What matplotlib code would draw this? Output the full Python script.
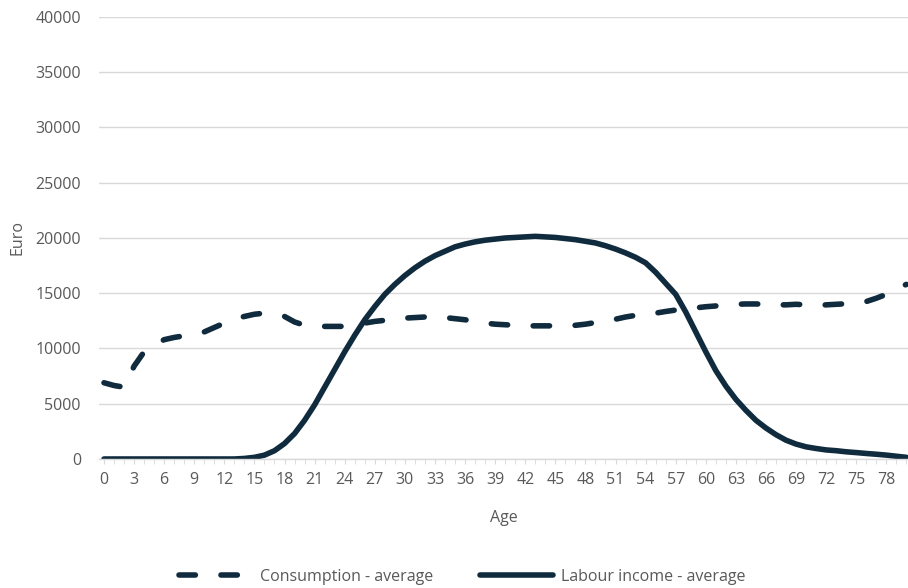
import numpy as np
import matplotlib.pyplot as plt

# average consumption and labour income by age (euro per year)
ages = np.arange(0, 81)
consumption = [
    6900, 6650, 6500, 8400, 9700, 10300, 10800, 11000, 11150, 11300,
    11500, 11900, 12300, 12700, 12900, 13100, 13200, 13100, 12900, 12400,
    12100, 12050, 12000, 12000, 12000, 12100, 12300, 12450, 12550, 12700,
    12750, 12800, 12850, 12850, 12800, 12700, 12600, 12450, 12300, 12200,
    12150, 12100, 12050, 12050, 12050, 12050, 12050, 12100, 12200, 12350,
    12500, 12650, 12850, 13000, 13100, 13200, 13350, 13480, 13580, 13680,
    13780, 13850, 13920, 14000, 14030, 14030, 14000, 13950, 13950, 14000,
    13950, 13900, 13950, 14000, 14050, 14150, 14250, 14550, 14900, 15400,
    15800,
]
labour_income = [
    0, 0, 0, 0, 0, 0, 0, 0, 0, 0,
    0, 0, 0, 0, 50, 150, 350, 750, 1400, 2300,
    3500, 4900, 6500, 8100, 9700, 11200, 12600, 13800, 14900, 15800,
    16600, 17300, 17900, 18400, 18800, 19200, 19450, 19650, 19800, 19900,
    20000, 20050, 20100, 20150, 20100, 20050, 19950, 19850, 19700, 19550,
    19300, 19000, 18650, 18250, 17750, 16900, 15900, 14900, 13300, 11500,
    9700, 8000, 6600, 5400, 4400, 3500, 2800, 2200, 1700, 1350,
    1100, 950, 820, 750, 650, 580, 500, 430, 350, 250,
    150,
]
y_ticks = np.arange(0, 40001, 5000)
x_ticks = np.arange(0, 79, 3)

navy = '#0f2b3d'
grey_text = '#595959'
grid_grey = '#d9d9d9'
fs = 11.5

plt.rcParams['font.family'] = ['Open Sans', 'DejaVu Sans']

fig = plt.figure(figsize=(9.08, 5.88), dpi=100)
ax = fig.add_axes([0.109, 0.2194, 0.891, 0.7517])

ax.plot(ages, consumption, color=navy, linewidth=4.0,
        linestyle=(0, (2.95, 4.6)), dash_capstyle='round',
        label='Consumption - average')
ax.plot(ages, labour_income, color=navy, linewidth=4.0,
        solid_capstyle='round', solid_joinstyle='round',
        label='Labour income - average')

ax.set_xlim(-0.5, 80.16)
ax.set_ylim(0, 40000)
ax.set_yticks(y_ticks)
ax.set_xticks(x_ticks)
ax.set_xticks(ages, minor=True)

ax.grid(axis='y', color=grid_grey, linewidth=1)
ax.set_axisbelow(True)
for side in ['top', 'right', 'left']:
    ax.spines[side].set_visible(False)
ax.spines['bottom'].set_color(grid_grey)
ax.spines['bottom'].set_linewidth(1)

ax.tick_params(axis='y', length=0, pad=13, labelsize=fs, labelcolor=grey_text)
ax.tick_params(axis='x', which='major', length=3.5, color=grid_grey,
               labelsize=fs, labelcolor=grey_text, pad=6)
ax.tick_params(axis='x', which='minor', length=3.5, color=grid_grey)

ax.set_xlabel('Age', fontsize=fs, color=grey_text, labelpad=16)
ax.set_ylabel('Euro', fontsize=fs, color=grey_text, labelpad=7)

fig.legend(loc='center', bbox_to_anchor=(0.509, 0.019), ncol=2,
           frameon=False, fontsize=fs, handlelength=4.6, columnspacing=2.9,
           handletextpad=0.5, labelcolor=grey_text, borderpad=0)

fig.savefig('out.png', dpi=100)
